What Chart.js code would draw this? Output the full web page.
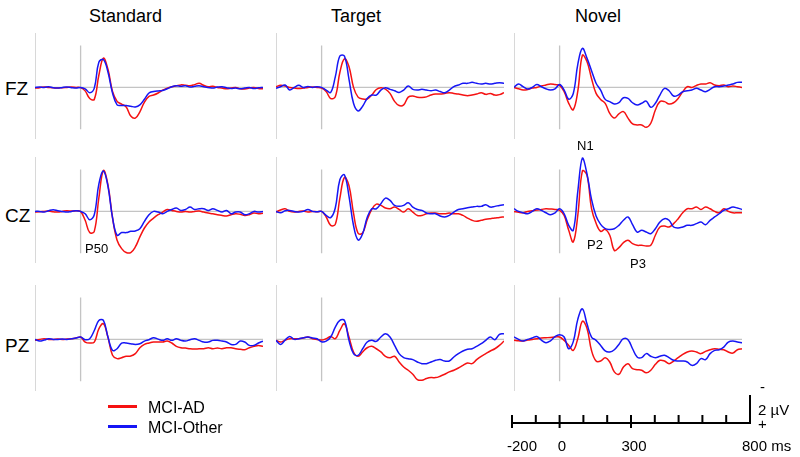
<!DOCTYPE html>
<html>
<head>
<meta charset="utf-8">
<script src="https://cdn.jsdelivr.net/npm/chart.js@4.4.0/dist/chart.umd.min.js"></script>
<style>
  body { margin: 0; background: #fff; }
  #page { position: relative; width: 800px; height: 457px; overflow: hidden; font-family: "Liberation Sans", Arial, sans-serif; color: #000; }
  #page canvas { position: absolute; }
  .lbl { position: absolute; white-space: nowrap; line-height: 1; }
  .key { position: absolute; height: 3px; width: 29px; }
</style>
</head>
<body>
<div id="page"></div>
<script>
// time axis of every waveform (ms)
const timesMs = [-200, -180, -160, -140, -120, -100, -80, -60, -40, -20, 0, 20, 40, 60, 80, 100, 120, 140, 160, 180,
  200, 220, 240, 260, 280, 300, 320, 340, 360, 380, 400, 420, 440, 460, 480, 500, 520, 540, 560, 580,
  600, 620, 640, 660, 680, 700, 720, 740, 760, 780, 800];

const conditions = ['Standard', 'Target', 'Novel'];
const electrodes = ['FZ', 'CZ', 'PZ'];
const groups = ['MCI-AD', 'MCI-Other'];
const scaleTicks = [-200, -100, 0, 100, 200, 300, 400, 500, 600, 700];
const majorTicks = [-200, 0, 300];

// amplitudes in µV, negative plotted up
const fzStdAD = [0.05, 0.02, -0.03, 0.0, 0.03, 0.05, 0.02, 0.0, -0.02, 0.0, 0.02,
  0.25, 0.8, 0.86, -0.87, -2.1, -1.3, 0.3, 1.0, 1.2, 1.4,
  2.05, 2.2, 1.75, 1.05, 0.65, 0.55, 0.4, 0.2, 0.05, -0.05,
  -0.12, -0.18, -0.15, -0.12, -0.2, -0.3, -0.15, -0.05, -0.08, 0.0,
  0.05, 0.1, 0.05, 0.0, 0.1, 0.12, 0.05, 0.0, 0.08, 0.1];
const fzStdOther = [0.0, -0.03, 0.0, -0.05, 0.03, 0.05, 0.0, -0.03, 0.02, 0.05, 0.0,
  0.1, 0.38, 0.05, -1.8, -2.0, -1.1, 0.4, 1.25, 1.3, 1.3,
  1.35, 1.4, 1.25, 0.85, 0.4, 0.3, 0.25, 0.22, 0.1, -0.05,
  -0.12, -0.08, -0.12, -0.02, -0.08, -0.12, -0.05, 0.0, 0.05, -0.02,
  -0.05, 0.02, 0.08, 0.05, 0.1, 0.05, 0.0, 0.08, 0.03, 0.0];
const fzTgtAD = [-0.05, -0.15, -0.1, 0.0, 0.05, 0.08, 0.05, 0.0, -0.03, 0.0, 0.05,
  0.3, 0.8, 0.67, -1.07, -2.05, -1.5, 0.0, 0.7, 0.83, 0.83,
  0.55, 0.15, 0.02, 0.12, 0.43, 1.0, 1.3, 1.25, 0.7, 0.62,
  0.7, 0.72, 0.68, 0.55, 0.48, 0.48, 0.43, 0.38, 0.43, 0.48,
  0.55, 0.6, 0.55, 0.48, 0.38, 0.5, 0.43, 0.55, 0.52, 0.38];
const fzTgtOther = [0.07, -0.05, -0.17, 0.19, 0.0, -0.15, 0.0, -0.07, 0.0, -0.05, 0.0,
  0.2, 0.36, -0.75, -2.25, -2.25, -0.6, 1.14, 1.69, 1.35, 0.79,
  0.55, 0.55, 0.19, 0.02, 0.14, 0.24, 0.36, 0.19, -0.1, 0.14,
  0.19, 0.14, 0.19, 0.24, 0.19, 0.3, 0.38, 0.19, -0.05, -0.17,
  -0.29, -0.29, -0.36, -0.29, -0.24, -0.29, -0.24, -0.29, -0.33, -0.29];
const fzNovAD = [0.0, 0.1, 0.19, 0.15, 0.05, 0.0, -0.1, -0.17, -0.24, -0.2, -0.15,
  0.3, 1.14, 1.6, 0.25, -2.3, -1.85, -0.64, 0.43, 0.86, 1.14,
  1.86, 2.2, 1.9, 1.74, 2.2, 2.62, 2.69, 2.69, 2.86, 2.57,
  1.62, 1.02, 1.02, 1.19, 1.1, 0.79, 0.31, -0.05, 0.0, -0.14,
  -0.24, -0.24, -0.33, -0.17, -0.12, -0.17, -0.05, -0.1, -0.05, 0.0];
const fzNovOther = [0.0, -0.25, -0.05, 0.12, 0.0, -0.2, -0.05, 0.1, 0.18, 0.1, -0.2,
  0.19, 0.85, 0.44, -1.67, -2.79, -2.1, -1.2, -0.3, 0.2, 0.86,
  1.02, 1.19, 1.1, 0.74, 0.79, 1.1, 1.26, 1.14, 0.98, 1.43,
  1.14, 0.55, 0.07, 0.24, 0.62, 0.55, 0.31, 0.24, 0.19, 0.07,
  0.19, 0.31, 0.14, -0.05, -0.05, -0.1, -0.17, -0.24, -0.36, -0.36];

const czStdAD = [0.05, 0.02, 0.0, -0.02, 0.03, 0.05, 0.0, -0.05, -0.02, -0.05, 0.0,
  0.64, 1.52, 1.43, -0.96, -2.93, -1.9, 0.45, 2.07, 2.67, 2.95,
  2.95, 2.55, 1.83, 1.19, 0.76, 0.48, 0.24, 0.05, -0.14, -0.07,
  0.0, 0.05, 0.0, 0.05, 0.0, -0.02, 0.05, 0.12, 0.17, 0.24,
  0.29, 0.33, 0.24, 0.17, 0.21, 0.29, 0.24, 0.12, 0.17, 0.14];
const czStdOther = [0.0, 0.0, 0.05, -0.05, -0.12, -0.05, 0.0, 0.05, 0.0, -0.05, 0.0,
  0.17, 0.6, 0.24, -1.95, -2.9, -1.8, 0.45, 1.71, 1.52, 1.52,
  1.43, 1.4, 1.24, 0.71, 0.24, 0.0, 0.05, 0.17, 0.0, -0.14,
  -0.24, -0.07, -0.14, -0.31, -0.14, -0.19, -0.19, -0.07, -0.19, -0.07,
  0.05, -0.07, 0.17, 0.05, 0.05, 0.24, 0.17, 0.0, 0.05, 0.0];
const czTgtAD = [0.05, -0.1, -0.19, 0.0, 0.05, 0.0, -0.02, 0.05, 0.0, 0.03, 0.0,
  0.4, 1.0, 0.93, -0.93, -2.43, -1.86, 0.13, 1.57, 1.55, 0.6,
  -0.15, -0.52, -0.43, -0.24, -0.19, -0.31, -0.14, 0.05, -0.19, 0.05,
  0.29, 0.29, 0.17, 0.12, 0.12, 0.17, 0.17, 0.12, 0.17, 0.17,
  0.29, 0.48, 0.64, 0.71, 0.64, 0.57, 0.52, 0.48, 0.43, 0.4];
const czTgtOther = [0.0, 0.1, -0.05, -0.07, 0.0, 0.05, 0.0, -0.14, 0.0, 0.02, 0.0,
  0.29, 0.45, -0.24, -2.27, -2.62, -1.1, 1.01, 2.05, 1.6, 0.43,
  -0.19, -0.19, -0.55, -0.95, -0.79, -0.43, -0.36, -0.43, -0.62, -0.31,
  -0.14, -0.07, 0.12, 0.17, 0.17, 0.33, 0.4, 0.29, 0.05, -0.14,
  -0.19, -0.26, -0.31, -0.36, -0.36, -0.48, -0.31, -0.36, -0.43, -0.48];
const czNovAD = [0.0, 0.07, 0.1, 0.0, -0.05, -0.1, -0.14, -0.19, -0.17, -0.14, -0.07,
  0.29, 1.36, 2.19, 0.26, -2.9, -2.6, -0.2, 0.85, 1.43, 1.29,
  1.71, 2.8, 2.6, 2.24, 2.07, 2.31, 2.43, 2.43, 2.48, 2.43,
  1.71, 1.12, 1.05, 1.12, 0.88, 0.52, 0.1, -0.19, -0.19, -0.31,
  -0.14, -0.31, -0.19, 0.0, 0.1, -0.19, 0.0, 0.1, 0.1, 0.1];
const czNovOther = [-0.19, 0.0, 0.1, 0.17, 0.0, -0.19, -0.07, 0.1, 0.24, 0.1, -0.19,
  0.17, 1.0, 1.36, -1.46, -3.83, -2.7, -0.86, 0.33, 0.93, 1.24,
  1.29, 1.24, 1.0, 0.64, 0.4, 0.95, 1.48, 1.36, 1.48, 1.6,
  1.24, 0.76, 0.52, 0.64, 1.12, 1.19, 1.12, 1.0, 1.0, 0.88,
  0.76, 0.95, 0.64, 0.4, 0.17, -0.07, -0.19, -0.31, -0.24, -0.14];

const pzStdAD = [0.07, 0.0, -0.05, 0.0, 0.0, -0.02, 0.0, -0.02, -0.05, -0.1, -0.17,
  0.19, 0.26, 0.19, -0.76, -1.12, -0.15, 1.14, 1.38, 1.31, 1.21,
  1.19, 1.02, 0.6, 0.36, 0.26, 0.19, 0.19, 0.19, 0.12, 0.26,
  0.5, 0.6, 0.62, 0.67, 0.69, 0.67, 0.67, 0.6, 0.67, 0.62,
  0.67, 0.6, 0.6, 0.67, 0.71, 0.74, 0.6, 0.5, 0.43, 0.5];
const pzStdOther = [0.0, 0.12, 0.05, -0.05, 0.0, 0.0, -0.02, 0.0, -0.05, -0.1, -0.17,
  0.02, -0.05, -0.64, -1.36, -1.36, -0.17, 0.79, 0.67, 0.26, 0.26,
  0.31, 0.36, 0.31, 0.12, 0.02, -0.12, -0.02, 0.07, -0.05, 0.07,
  -0.05, 0.07, 0.12, 0.02, -0.05, 0.07, 0.19, 0.19, 0.07, 0.07,
  0.12, 0.19, 0.36, 0.36, 0.12, 0.19, 0.43, 0.43, 0.26, 0.12];
const pzTgtAD = [0.07, 0.19, 0.05, -0.05, -0.05, -0.05, -0.1, -0.17, -0.05, 0.0, 0.05,
  -0.05, -0.21, -0.05, -0.64, -1.12, -0.17, 0.9, 1.21, 0.9, 0.6,
  0.5, 0.67, 0.9, 1.21, 1.31, 1.21, 1.62, 1.98, 2.21, 2.5,
  2.88, 2.93, 2.81, 2.74, 2.74, 2.64, 2.5, 2.33, 2.21, 2.05,
  1.86, 1.69, 1.74, 1.45, 1.21, 1.02, 0.83, 0.67, 0.43, 0.12];
const pzTgtOther = [0.07, 0.36, 0.05, -0.21, 0.0, -0.05, -0.12, -0.17, -0.1, -0.05, 0.17,
  0.12, -0.17, -0.88, -1.36, -1.36, 0.07, 1.02, 1.14, 0.67, 0.19,
  0.07, 0.14, -0.17, -0.4, -0.17, 0.43, 1.02, 1.31, 1.38, 1.45,
  1.62, 1.74, 1.74, 1.62, 1.5, 1.45, 1.55, 1.55, 1.26, 1.02,
  0.83, 0.71, 0.67, 0.5, 0.31, 0.07, -0.17, 0.02, -0.36, -0.4];
const pzNovAD = [0.07, 0.1, 0.12, 0.05, 0.0, -0.05, -0.1, -0.12, -0.14, -0.17, -0.17,
  0.07, 0.43, 0.79, -0.07, -1.3, -0.8, 0.8, 1.55, 1.55, 1.31,
  1.62, 2.33, 2.5, 1.98, 1.74, 2.1, 2.17, 2.21, 2.4, 2.21,
  1.79, 1.5, 1.55, 1.74, 1.55, 1.31, 1.07, 0.9, 0.83, 0.9,
  1.02, 0.86, 0.74, 0.67, 0.71, 0.74, 0.9, 0.98, 0.74, 0.67];
const pzNovOther = [-0.17, 0.0, 0.12, 0.0, -0.1, -0.21, 0.05, 0.24, 0.1, -0.2, -0.33,
  -0.17, 0.67, 0.16, -1.45, -2.19, -1.12, -0.17, 0.07, 0.43, 0.83,
  0.9, 0.74, 0.36, -0.05, 0.02, 0.67, 1.26, 1.31, 1.02, 1.21,
  1.31, 1.21, 1.14, 1.31, 1.5, 1.55, 1.55, 1.62, 1.86, 1.74,
  1.38, 1.45, 1.02, 0.79, 0.74, 0.55, 0.19, 0.12, 0.19, 0.24];

const panelData = [
  [[fzStdAD, fzStdOther], [fzTgtAD, fzTgtOther], [fzNovAD, fzNovOther]],
  [[czStdAD, czStdOther], [czTgtAD, czTgtOther], [czNovAD, czNovOther]],
  [[pzStdAD, pzStdOther], [pzTgtAD, pzTgtOther], [pzNovAD, pzNovOther]]
];

// layout
const colLeft = [35, 276, 514];
const rowZero = [87, 211, 339];
const PLOT_W = 228, PLOT_H = 106, PAD = 4;
const Y_TOP = -3.9, Y_BOTTOM = 3.7;
const RED = 'rgb(245,18,18)', BLUE = 'rgb(22,22,245)', GREY = '#c4c4c4';

const page = document.getElementById('page');

function addText(txt, left, top, size, centered) {
  const d = document.createElement('div');
  d.className = 'lbl';
  d.textContent = txt;
  d.style.left = left + 'px';
  d.style.top = top + 'px';
  d.style.fontSize = size + 'px';
  if (centered) d.style.transform = 'translateX(-50%)';
  page.appendChild(d);
}

function pts(vals) {
  return vals.map((v, i) => ({x: timesMs[i], y: v}));
}

function trace(data, color, width, tension) {
  return {data: data, borderColor: color, borderWidth: width, pointRadius: 0, tension: tension, fill: false};
}

function makePanel(r, c) {
  const cv = document.createElement('canvas');
  cv.width = PLOT_W + 2 * PAD;
  cv.height = PLOT_H + 2 * PAD;
  cv.style.left = (colLeft[c] - PAD) + 'px';
  cv.style.top = Math.round(rowZero[r] + Y_TOP * PLOT_H / (Y_BOTTOM - Y_TOP) - PAD) + 'px';
  page.appendChild(cv);
  const [ad, other] = panelData[r][c];
  new Chart(cv, {
    type: 'line',
    data: {
      datasets: [
        trace(pts(other), BLUE, 1.5, 0.4),
        trace(pts(ad), RED, 1.5, 0.4),
        trace([{x: -200, y: Y_TOP}, {x: -200, y: Y_BOTTOM}], GREY, 1.3, 0),
        trace([{x: 0, y: -3}, {x: 0, y: 3}], GREY, 1.3, 0),
        trace([{x: -200, y: 0}, {x: 800, y: 0}], GREY, 1.2, 0)
      ]
    },
    options: {
      responsive: false,
      animation: false,
      devicePixelRatio: 1,
      layout: {padding: PAD},
      plugins: {legend: {display: false}, tooltip: {enabled: false}},
      scales: {
        x: {type: 'linear', min: -200, max: 800, display: false},
        y: {type: 'linear', min: Y_TOP, max: Y_BOTTOM, reverse: true, display: false}
      }
    }
  });
}

for (let r = 0; r < 3; r++) {
  for (let c = 0; c < 3; c++) {
    makePanel(r, c);
  }
}

// time / voltage scale bar
const scaleBar = {
  id: 'scaleBar',
  afterDraw(chart) {
    const {ctx, scales: {x, y}} = chart;
    ctx.save();
    ctx.strokeStyle = '#000';
    ctx.lineWidth = 2;
    ctx.beginPath();
    ctx.moveTo(x.getPixelForValue(-200), y.getPixelForValue(0));
    ctx.lineTo(x.getPixelForValue(800), y.getPixelForValue(0));
    ctx.lineTo(x.getPixelForValue(800), y.getPixelForValue(2));
    scaleTicks.forEach(t => {
      const px = x.getPixelForValue(t);
      ctx.moveTo(px, y.getPixelForValue(majorTicks.includes(t) ? -0.36 : 0));
      ctx.lineTo(px, y.getPixelForValue(0.57));
    });
    ctx.stroke();
    ctx.restore();
  }
};

const sc = document.createElement('canvas');
sc.width = 270;
sc.height = 60;
sc.style.left = '500px';
sc.style.top = '380px';
page.appendChild(sc);
new Chart(sc, {
  type: 'line',
  data: {datasets: []},
  options: {
    responsive: false,
    animation: false,
    devicePixelRatio: 1,
    layout: {padding: {left: 12, right: 20, top: 15, bottom: 17}},
    plugins: {legend: {display: false}, tooltip: {enabled: false}},
    scales: {
      x: {type: 'linear', min: -200, max: 800, display: false},
      y: {type: 'linear', min: 0, max: 2, display: false}
    }
  },
  plugins: [scaleBar]
});

// texts
addText(conditions[0], 89, 7, 18);
addText(conditions[1], 331, 7, 18);
addText(conditions[2], 575, 7, 18);
addText(electrodes[0], 5, 79, 19);
addText(electrodes[1], 5, 206, 19);
addText(electrodes[2], 5, 336, 19);
addText('P50', 85, 242, 13);
addText('N1', 577, 139, 13);
addText('P2', 587, 238, 13);
addText('P3', 630, 257, 13);

addText('-200', 522, 438, 15, true);
addText('0', 562, 438, 15, true);
addText('300', 634, 438, 15, true);
addText('800 ms', 742, 438, 15);
addText('-', 760, 379, 15);
addText('2 µV', 758, 402, 15);
addText('+', 758, 416, 15);

// legend
[RED, BLUE].forEach((col, i) => {
  const k = document.createElement('div');
  k.className = 'key';
  k.style.background = col;
  k.style.left = '108px';
  k.style.top = (405 + i * 20) + 'px';
  page.appendChild(k);
  addText(groups[i], 148, 400 + i * 20, 16);
});
</script>
</body>
</html>
